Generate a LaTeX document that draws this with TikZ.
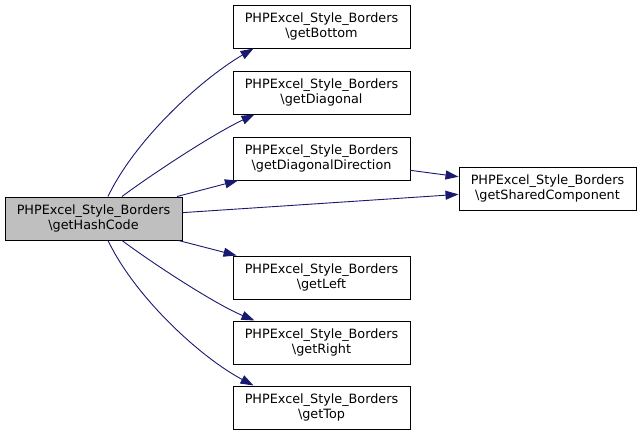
\documentclass[tikz,border=0pt]{standalone}
\usepackage{fontspec}
\setmainfont{DejaVu Sans}
\usetikzlibrary{arrows.meta,positioning}
\definecolor{callblue}{HTML}{191970}
\definecolor{grey}{HTML}{BFBFBF}
\def\Cls{PHPExcel\_Style\_Borders}

\begin{document}
\begin{tikzpicture}[x=1pt,y=-1pt,% y runs downwards, like the pixels
					every node/.style={
						rectangle,draw=black,fill=white,line width=1pt,
						align=center,  		% so that "\\" breaks the line
						minimum width=177pt,	% all boxes have the same size
						minimum height=43pt,
						inner sep=0pt,
						font=\fontsize{12.8}{14.4}\selectfont
						},
					callarrow/.style={draw,callblue,line width=0.9pt,-{Triangle[length=13pt,width=9pt]}},
					every edge/.style={callarrow}
					]
\useasboundingbox (0,0) rectangle (643,437);
\node[fill=grey](R0) at (93.5,218.5){\Cls\\\textbackslash getHashCode};
\node(R1) at (321.5,26.5){\Cls\\\textbackslash getBottom};
\node(R2) at (321.5,92.5){\Cls\\\textbackslash getDiagonal};
\node(R3) at (321.5,158.5){\Cls\\\textbackslash getDiagonalDirection};
\node(R4) at (547.5,188.5){\Cls\\\textbackslash getSharedComponent};
\node(R5) at (321.5,277.5){\Cls\\\textbackslash getLeft};
\node(R6) at (321.5,342.5){\Cls\\\textbackslash getRight};
\node(R7) at (321.5,407.5){\Cls\\\textbackslash getTop};
\path
(R0)edge (R3)
(R0)edge (R4)
(R3)edge (R4)
(R0)edge (R5)
;
% the bent calls
\draw[callarrow] ([xshift=14.5pt]R0.north) .. controls (135,140) and (200,80) .. ([xshift=-68pt]R1.south);
\draw[callarrow] ([xshift=28.5pt]R0.north) .. controls (155,172) and (215,133) .. ([xshift=-67pt]R2.south);
\draw[callarrow] ([xshift=28.5pt]R0.south) .. controls (155,265) and (215,304) .. ([xshift=-67pt]R6.north);
\draw[callarrow] ([xshift=14.5pt]R0.south) .. controls (135,297) and (200,357) .. ([xshift=-68pt]R7.north);
\end{tikzpicture}
\end{document}
